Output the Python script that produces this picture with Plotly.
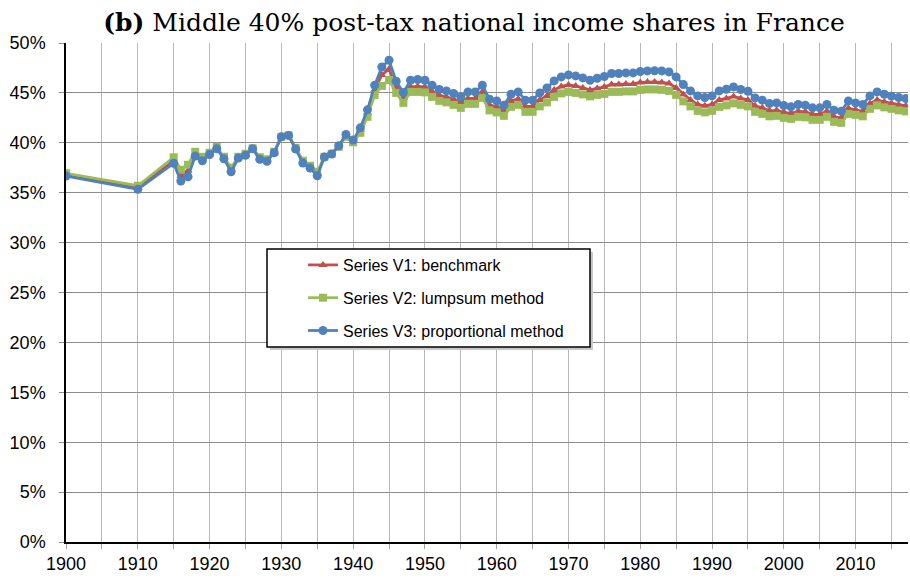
import plotly.graph_objects as go

years = [1900, 1910] + list(range(1915, 2018))

v1_benchmark = [
    36.8, 35.5,
    38.2, 36.7, 37.2, 38.85, 38.4, 38.9, 39.5, 38.5, 37.3, 38.55,
    38.8, 39.4, 38.45, 38.25, 39.05, 40.6, 40.75, 39.45, 38.1, 37.6,
    36.9, 38.6, 38.9, 39.65, 40.7, 40.2, 41.3, 43.0, 45.3, 46.8,
    47.4, 45.6, 44.5, 45.6, 45.65, 45.6, 45.15, 44.75, 44.6, 44.35,
    44.05, 44.45, 44.45, 45.1, 43.8, 43.6, 43.2, 44.2, 44.4, 43.65,
    43.65, 44.3, 44.7, 45.3, 45.65, 45.8, 45.7, 45.5, 45.3, 45.45,
    45.6, 45.85, 45.85, 45.9, 45.9, 46.05, 46.1, 46.1, 46.05, 45.95,
    45.5, 44.85, 44.3, 43.85, 43.7, 43.85, 44.3, 44.45, 44.65, 44.45,
    44.3, 43.7, 43.5, 43.2, 43.25, 43.05, 42.95, 43.15, 43.1, 42.85,
    42.85, 43.15, 42.6, 42.5, 43.45, 43.3, 43.15, 43.95, 44.3, 44.1,
    43.95, 43.8, 43.7,
]

v2_lumpsum = [
    36.95, 35.7,
    38.55, 37.3, 37.8, 39.1, 38.6, 39.0, 39.6, 38.6, 37.5, 38.6,
    38.9, 39.45, 38.55, 38.35, 39.1, 40.6, 40.75, 39.5, 38.2, 37.7,
    37.1, 38.6, 38.9, 39.6, 40.6, 40.05, 41.0, 42.6, 44.8, 45.7,
    46.3, 45.0, 44.0, 45.1, 45.1, 45.05, 44.6, 44.2, 44.05, 43.8,
    43.5, 43.9, 43.9, 44.5, 43.25, 43.05, 42.7, 43.6, 43.8, 43.1,
    43.1, 43.65, 44.05, 44.6, 44.95, 45.1, 45.0, 44.85, 44.65, 44.8,
    44.9, 45.1, 45.1, 45.15, 45.15, 45.3, 45.35, 45.35, 45.3, 45.2,
    44.8, 44.15, 43.65, 43.2, 43.05, 43.2, 43.6, 43.75, 43.95, 43.8,
    43.65, 43.1, 42.9, 42.65, 42.7, 42.5, 42.4, 42.6, 42.55, 42.3,
    42.3, 42.6, 42.1, 42.0, 42.9, 42.8, 42.65, 43.4, 43.75, 43.55,
    43.4, 43.25, 43.15,
]

v3_proportional = [
    36.67, 35.34,
    37.94, 36.17, 36.6, 38.67, 38.2, 38.83, 39.4, 38.4, 37.1, 38.47,
    38.74, 39.4, 38.34, 38.14, 39.0, 40.6, 40.74, 39.37, 37.97, 37.47,
    36.7, 38.57, 38.87, 39.7, 40.84, 40.27, 41.5, 43.3, 45.77, 47.6,
    48.27, 46.17, 45.04, 46.27, 46.34, 46.27, 45.77, 45.34, 45.2, 44.94,
    44.6, 45.1, 45.1, 45.77, 44.37, 44.2, 43.77, 44.87, 45.1, 44.27,
    44.27, 45.0, 45.5, 46.2, 46.6, 46.8, 46.7, 46.5, 46.27, 46.47,
    46.64, 46.94, 46.94, 47.0, 47.0, 47.14, 47.2, 47.22, 47.2, 47.1,
    46.6, 45.84, 45.2, 44.7, 44.54, 44.7, 45.2, 45.37, 45.6, 45.34,
    45.17, 44.5, 44.27, 43.94, 44.0, 43.74, 43.6, 43.84, 43.77, 43.5,
    43.5, 43.84, 43.27, 43.17, 44.2, 44.0, 43.84, 44.7, 45.1, 44.87,
    44.67, 44.54, 44.44,
]

series_names = [
    "Series V1: benchmark",
    "Series V2: lumpsum method",
    "Series V3: proportional method",
]
series_colors = ["#C0504D", "#9BBB59", "#4F81BD"]
series_symbols = ["triangle-up", "square", "circle"]
series_sizes = [8, 8, 9]
series_values = [v1_benchmark, v2_lumpsum, v3_proportional]

y_ticks = list(range(0, 51, 5))
x_ticks = list(range(1900, 2011, 10))

fig = go.Figure()
for name, vals, col, sym, sz in zip(series_names, series_values, series_colors,
                                    series_symbols, series_sizes):
    fig.add_trace(go.Scatter(
        x=years, y=vals, name=name, mode="lines+markers",
        legendgroup=name,
        line=dict(color=col, width=2.75),
        marker=dict(color=col, symbol=sym, size=sz, line=dict(width=0)),
    ))

W, H = 910, 578
ml, mr, mt, mb = 66, 2, 43, 36
pw, ph = W - ml - mr, H - mt - mb

def px_x(x):
    return (x - ml) / pw

def px_y(y):
    return (H - mb - y) / ph

box_l, box_r, box_t, box_b = 267, 590, 249, 347

fig.update_layout(
    width=W, height=H,
    margin=dict(l=ml, r=mr, t=mt, b=mb, pad=0),
    paper_bgcolor="white", plot_bgcolor="white",
    font=dict(family="Liberation Sans, Arial, sans-serif", size=18, color="black"),
    title=dict(
        text="<b>(b)</b> Middle 40% post-tax national income shares in France",
        font=dict(family="DejaVu Serif, serif", size=25, color="black"),
        x=474 / W, xanchor="center", xref="container",
        y=1 - 22 / H, yanchor="middle", yref="container",
    ),
    xaxis=dict(
        range=[1900, 2017.3], tickvals=x_ticks, tickmode="array",
        showgrid=True, gridcolor="#B8B8B8", gridwidth=1,
        showline=True, linecolor="black", linewidth=1.5,
        ticks="outside", ticklen=5, tickcolor="#A0A0A0",
        minor=dict(dtick=5, tick0=1900, showgrid=True, gridcolor="#B8B8B8",
                   ticks="outside", ticklen=5, tickcolor="#A0A0A0"),
        zeroline=False, tickfont=dict(size=18), automargin=False,
    ),
    yaxis=dict(
        range=[0, 50], tickvals=y_ticks, tickmode="array",
        ticktext=[f"{v}%" for v in y_ticks],
        showgrid=True, gridcolor="#8C8C8C", gridwidth=1,
        showline=True, linecolor="black", linewidth=1.5,
        ticks="outside", ticklen=5, tickcolor="#8C8C8C",
        ticklabelstandoff=10,
        zeroline=False, tickfont=dict(size=18), automargin=False,
    ),
    showlegend=True,
    legend=dict(
        x=px_x(303), xanchor="left", xref="paper",
        y=px_y(box_t - 1), yanchor="top", yref="paper",
        bgcolor="rgba(0,0,0,0)", borderwidth=0,
        font=dict(family="Liberation Sans, Arial, sans-serif", size=16, color="black"),
        tracegroupgap=9,
    ),
    shapes=[
        dict(type="rect", xref="paper", yref="paper", layer="above",
             x0=px_x(box_l + 3), x1=px_x(box_r + 3), y0=px_y(box_b + 3), y1=px_y(box_t + 3),
             line=dict(width=0), fillcolor="#C8C8C8"),
        dict(type="rect", xref="paper", yref="paper", layer="above",
             x0=px_x(box_l), x1=px_x(box_r), y0=px_y(box_b), y1=px_y(box_t),
             line=dict(color="black", width=1.5), fillcolor="white"),
    ],
)

fig.write_html(
    "out.html",
    config={"displayModeBar": False},
    post_script="document.body.style.margin='0';document.body.style.overflow='hidden';",
)
